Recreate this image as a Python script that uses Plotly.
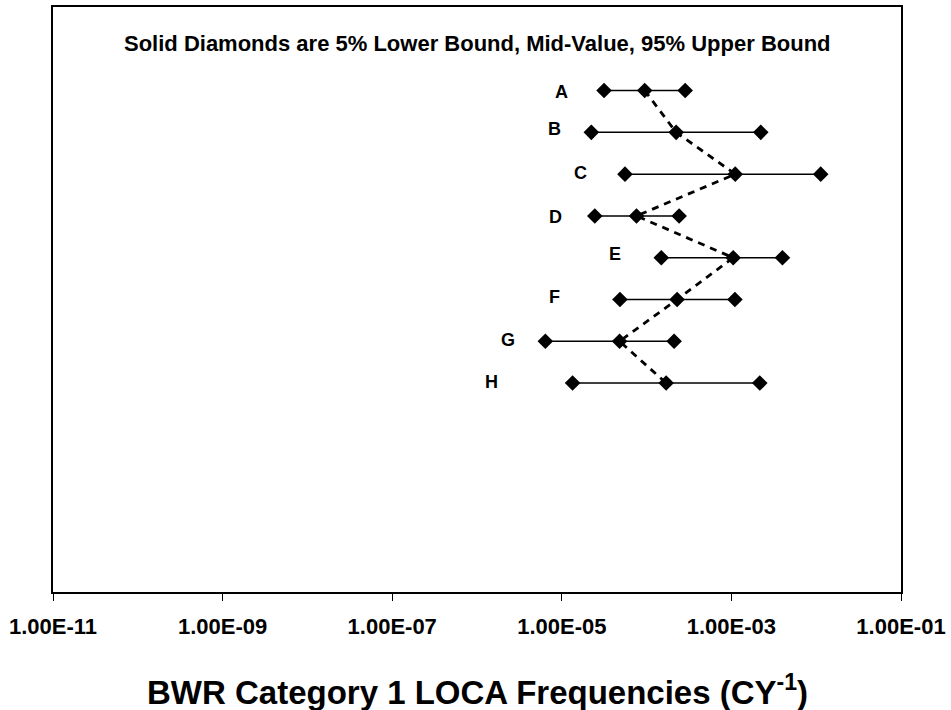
import plotly.graph_objects as go
import math

categories = ["A", "B", "C", "D", "E", "F", "G", "H"]
y_pos = [12, 11, 10, 9, 8, 7, 6, 5]
lower_5 = [3.15e-5, 2.23e-5, 5.56e-5, 2.45e-5, 1.49e-4, 4.85e-5, 6.4e-6, 1.34e-5]
mid_value = [9.5e-5, 2.23e-4, 1.11e-3, 7.6e-5, 1.05e-3, 2.29e-4, 4.8e-5, 1.7e-4]
upper_95 = [2.85e-4, 2.22e-3, 1.13e-2, 2.42e-4, 4.0e-3, 1.1e-3, 2.11e-4, 2.16e-3]
label_x = [9.8e-6, 8.1e-6, 1.64e-5, 8.4e-6, 4.24e-5, 8.1e-6, 2.3e-6, 1.5e-6]
label_y = [11.97, 11.08, 10.02, 8.97, 8.08, 7.07, 6.03, 5.02]
tick_vals = [1e-11, 1e-9, 1e-7, 1e-5, 1e-3, 1e-1]
tick_text = ["1.00E-11", "1.00E-09", "1.00E-07", "1.00E-05", "1.00E-03", "1.00E-01"]

FONT = "Liberation Sans, Arial, sans-serif"

fig = go.Figure()

# dashed line through mid-values
fig.add_trace(go.Scatter(
    x=mid_value, y=y_pos, mode="lines",
    line=dict(color="black", width=2.8, dash="7px,6px"),
    hoverinfo="skip", showlegend=False))

for c, y, lo, md, up in zip(categories, y_pos, lower_5, mid_value, upper_95):
    fig.add_trace(go.Scatter(
        x=[lo, md, up], y=[y, y, y], mode="lines+markers", name=c,
        line=dict(color="black", width=1.5),
        marker=dict(symbol="diamond", size=12, color="black"),
        showlegend=False))

for c, lx, ly in zip(categories, label_x, label_y):
    fig.add_annotation(x=math.log10(lx), y=ly, xref="x", yref="y", text="<b>%s</b>" % c,
                       showarrow=False, font=dict(family=FONT, size=18, color="black"))

fig.add_annotation(x=0.5, y=1, xref="paper", yref="paper", yanchor="top", yshift=-22,
                   text="<b>Solid Diamonds are 5% Lower Bound, Mid-Value, 95% Upper Bound</b>",
                   showarrow=False, font=dict(family=FONT, size=22, color="black"))
fig.add_annotation(x=0.5, y=0, xref="paper", yref="paper", yanchor="middle", yshift=-98,
                   text="<b>BWR Category 1 LOCA Frequencies (CY<sup>-1</sup>)</b>",
                   showarrow=False, font=dict(family=FONT, size=33, color="black"))

fig.update_layout(
    width=951, height=710,
    margin=dict(l=53, r=47, t=5, b=118),
    plot_bgcolor="white", paper_bgcolor="white",
    font=dict(family=FONT, color="black"),
)

fig.update_xaxes(type="log", range=[-11, -1], tickvals=tick_vals,
                 ticktext=["<b>%s</b>" % t for t in tick_text],
                 ticks="outside", ticklen=7, tickcolor="black", tickwidth=1,
                 showline=True, linecolor="black", linewidth=2, mirror=True,
                 showgrid=False, zeroline=False, ticklabelstandoff=7,
                 tickfont=dict(family=FONT, size=22, color="black"))
fig.update_yaxes(range=[0, 14], showticklabels=False, ticks="",
                 showline=True, linecolor="black", linewidth=1.5, mirror=True,
                 showgrid=False, zeroline=False)

fig.write_html("out.html", config={"displayModeBar": False},
               post_script="document.body.style.margin='0px';")
